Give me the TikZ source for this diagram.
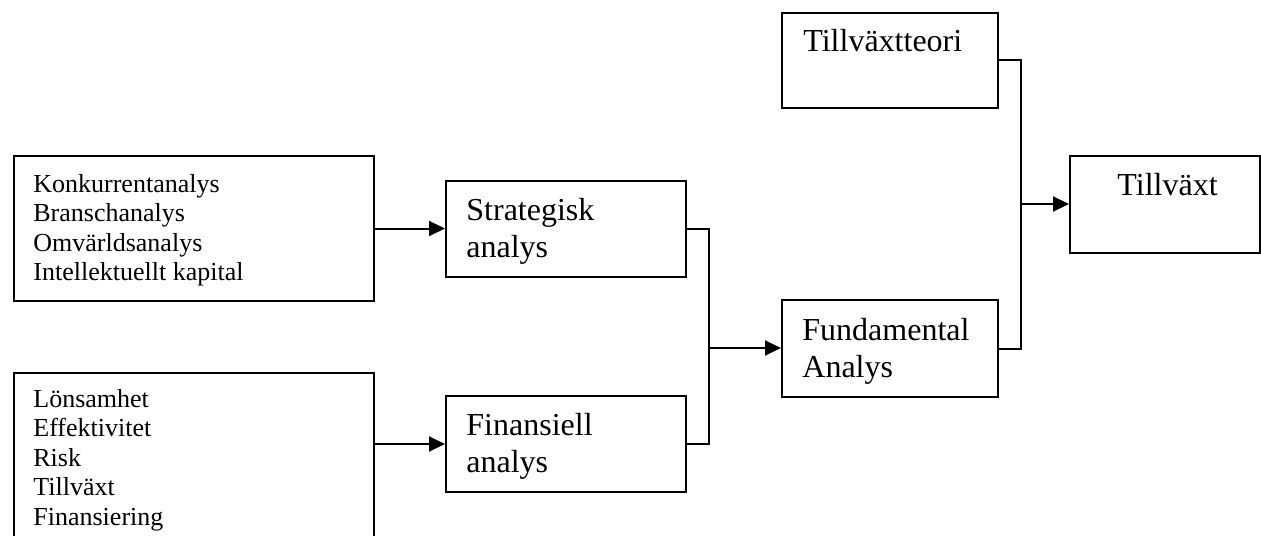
\documentclass[tikz,border=0pt]{standalone}
\usepackage{fontspec}
\setmainfont{Liberation Serif}
\usetikzlibrary{arrows.meta}
\tikzset{
  box/.style={draw, line width=1pt, inner sep=0pt, anchor=north west},
  conn/.style={line width=1pt},
  arr/.style={line width=1pt, -{Triangle[length=8pt,width=7.5pt]}},
  lbl/.style={inner sep=0pt, anchor=base west},
}
\newcommand{\smalllist}[1]{\fontsize{13}{14.75}\selectfont\renewcommand{\arraystretch}{1}\begin{tabular}[t]{@{}l@{}}#1\end{tabular}}
\newcommand{\biglist}[1]{\fontsize{16}{18.5}\selectfont\renewcommand{\arraystretch}{1}\begin{tabular}[t]{@{}l@{}}#1\end{tabular}}
\begin{document}
\begin{tikzpicture}[x=0.5pt,y=-0.5pt]
\useasboundingbox (0,0) rectangle (1261,535);
\clip (0,0) rectangle (1261,535);
% boxes
\node[box, minimum width=180pt, minimum height=72.5pt] (K) at (13,155) {};
\node[box, minimum width=180pt, minimum height=120pt] (L) at (13,372) {};
\node[box, minimum width=120pt, minimum height=48pt] (S) at (445,180) {};
\node[box, minimum width=120pt, minimum height=48pt] (F) at (445,395) {};
\node[box, minimum width=108pt, minimum height=48.5pt] (FA) at (781,299) {};
\node[box, minimum width=108pt, minimum height=47.5pt] (TT) at (781,12) {};
\node[box, minimum width=95pt, minimum height=48.5pt] (TV) at (1069,155) {};
% texts
\node[lbl] (Kt) at (33,192) {\smalllist{Konkurrentanalys\\Branschanalys\\Omvärldsanalys\\Intellektuellt kapital}};
\node[lbl] (Lt) at (33,407) {\smalllist{Lönsamhet\\Effektivitet\\Risk\\Tillväxt\\Finansiering}};
\node[lbl] (St) at (466,220) {\biglist{Strategisk\\analys}};
\node[lbl] (Ft) at (466,435) {\biglist{Finansiell\\analys}};
\node[lbl] (FAt) at (802,340) {\biglist{Fundamental\\Analys}};
\node[lbl] (TTt) at (803,52) {\biglist{Tillväxtteori}};
\node[lbl] (TVt) at (1117,195) {\biglist{Tillväxt}};
% connectors
\draw[arr] (K.east) -- (K.east -| S.west);
\draw[arr] (F.west -| L.east) -- (F.west);
\coordinate (j1) at (709,348);
\draw[conn] (S.east) -| (j1) |- (F.east);
\draw[arr] (j1) -- (j1 -| FA.west);
\coordinate (j2) at (1021,204);
\draw[conn] (TT.east) -| (j2) |- (FA.east);
\draw[arr] (j2) -- (j2 -| TV.west);
\end{tikzpicture}
\end{document}
